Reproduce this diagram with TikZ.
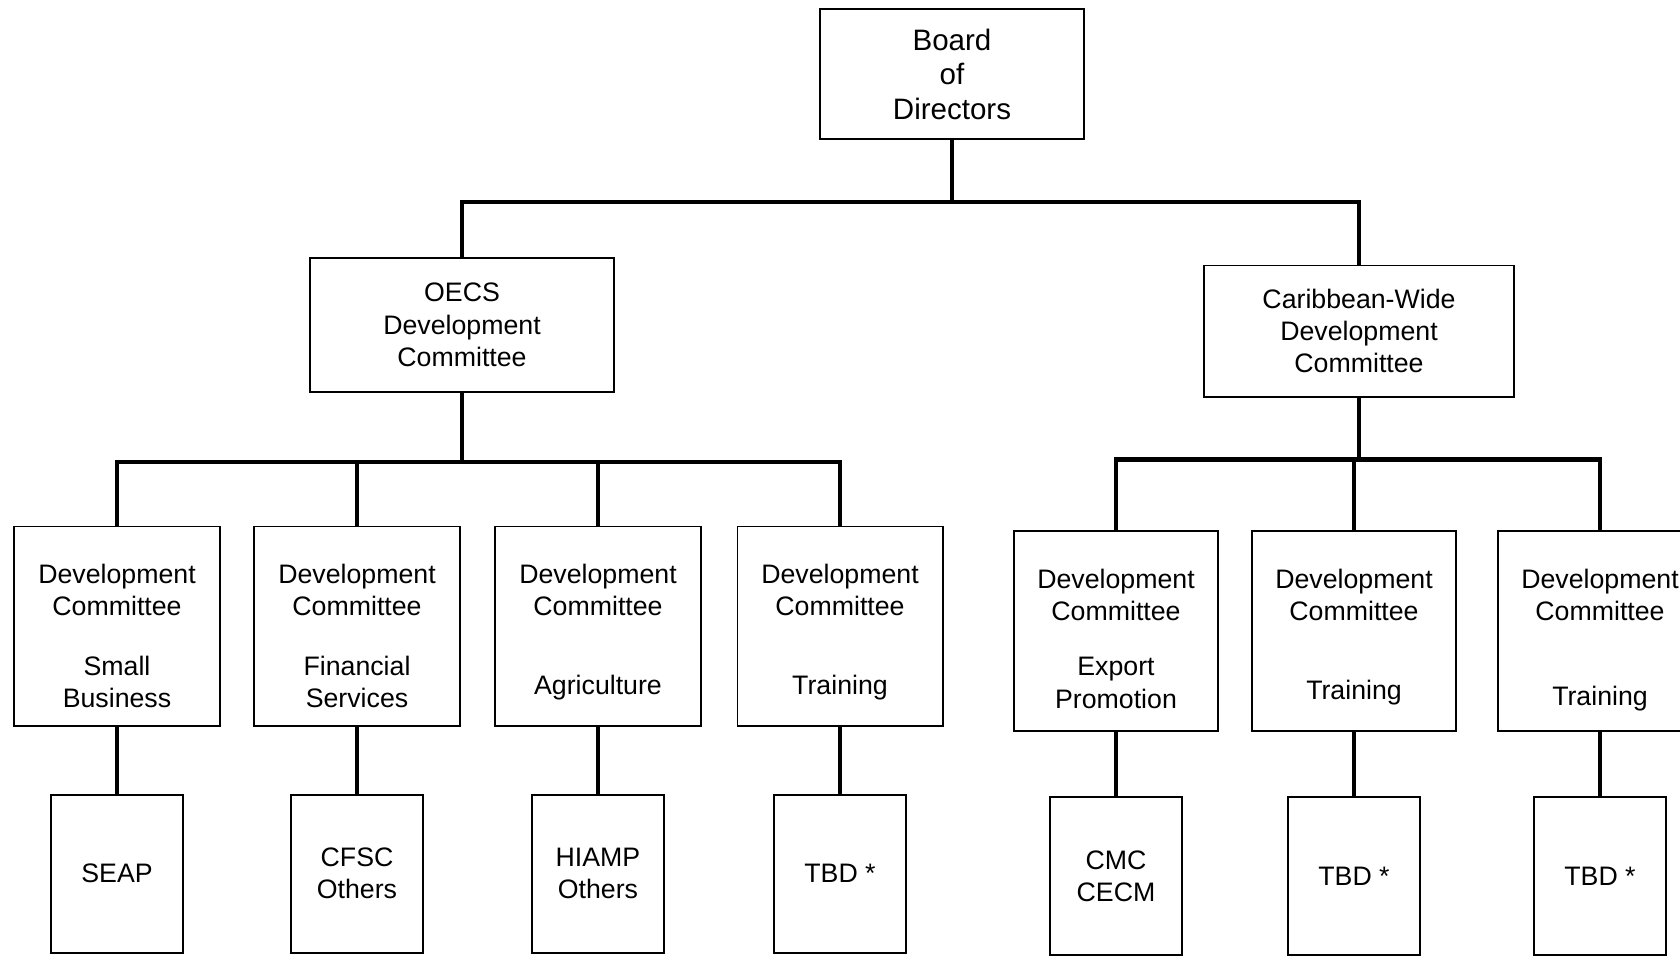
\documentclass[tikz,border=0pt]{standalone}
\usepackage{fontspec}
\setmainfont{Liberation Sans}
\usetikzlibrary{positioning}

\begin{document}
\begin{tikzpicture}[x=0.025cm,y=-0.025cm,
        box/.style={draw,line width=1.4pt,align=center,inner sep=0pt},
        link/.style={line width=3pt},
        txt/.style={align=center,font=\fontsize{19}{23}\selectfont},
        node distance=1.675cm]
    \clip (0,0) rectangle (1680,955);
    \node[box,minimum width=6.575cm,minimum height=3.25cm,font=\fontsize{21}{24.5}\selectfont] (board) at (952,74) {Board\\of\\Directors};
    \node[box,txt,minimum width=7.6cm,minimum height=3.35cm] (oecs) at (462,325) {OECS\\Development\\Committee};
    \node[box,txt,minimum width=7.75cm,minimum height=3.275cm] (cwdc) at (1359,331) {Caribbean-Wide\\Development\\Committee};
    \draw[link] (board.south) -- ++(0,62) coordinate (topbar) -| (oecs.north);
    \draw[link] (topbar) -| (cwdc.north);
    \draw[link] (oecs.south) -- ++(0,69) coordinate (lbar);
    \draw[link] (cwdc.south) -- ++(0,62) coordinate (rbar);
    % OECS committees
    \foreach[count=\i] \x/\d/\s/\t in {117/1.4/Small\\Business/SEAP,357/1.4/Financial\\Services/CFSC\\Others,598/1.53/Agriculture/HIAMP\\Others,840/1.53/Training/TBD *}{
        \node[box,minimum width=5.125cm,minimum height=4.975cm] (dc\i) at (\x,626) {};
        \node[txt] (hd\i) at ([yshift=0.9cm]dc\i.center) {Development\\Committee};
        \node[txt] (sub\i) at ([yshift=-\d cm]dc\i.center) {\s};
        \node[box,txt,below=of dc\i,minimum width=3.3cm,minimum height=3.95cm] (prog\i) {\t};
        \draw[link] (lbar) -| (dc\i.north);
        \draw[link] (dc\i) -- (prog\i);
    }
    % Caribbean-wide committees
    \foreach[count=\i from 5] \x/\d/\s/\t in {1116/1.3/Export\\Promotion/CMC\\CECM,1354/1.55/Training/TBD *,1600/1.7/Training/TBD *}{
        \node[box,minimum width=5.1cm,minimum height=5cm] (dc\i) at (\x,631) {};
        \node[txt] (hd\i) at ([yshift=0.9cm]dc\i.center) {Development\\Committee};
        \node[txt] (sub\i) at ([yshift=-\d cm]dc\i.center) {\s};
        \node[box,txt,below=1.6cm of dc\i,minimum width=3.3cm,minimum height=3.95cm] (prog\i) {\t};
        \draw[link] (rbar) -| (dc\i.north);
        \draw[link] (dc\i) -- (prog\i);
    }
\end{tikzpicture}
\end{document}
